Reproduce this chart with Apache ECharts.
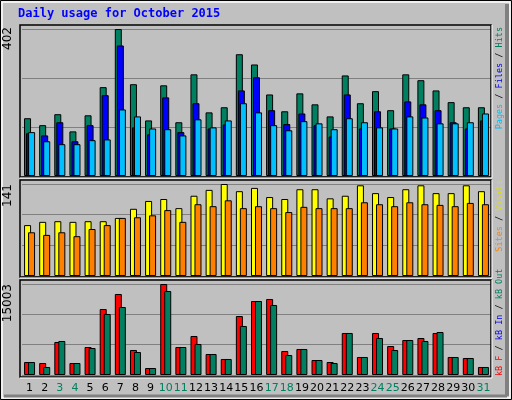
<!doctype html>
<html>
<head>
<meta charset="UTF-8">
<title>Daily usage for October 2015</title>
<script src="https://cdn.jsdelivr.net/npm/echarts@6/dist/echarts.min.js"></script>
<style>
  html, body { margin: 0; padding: 0; background: #c0c0c0; }
  #main { width: 512px; height: 400px; }
</style>
</head>
<body>
<div id="main"></div>
<script>
var days = ['1','2','3','4','5','6','7','8','9','10','11','12','13','14','15','16',
            '17','18','19','20','21','22','23','24','25','26','27','28','29','30','31'];
var weekends = ['3','4','10','11','17','18','24','25','31'];

var hits  = [158,139,169,122,166,243,402,251,152,248,147,278,174,188,333,305,
             223,177,226,196,163,275,199,232,180,278,262,234,202,188,188];
var files = [117,111,147,95,139,221,357,133,114,215,120,199,130,141,234,270,
             180,142,171,139,108,223,130,177,130,204,196,180,147,130,152];
var pages = [120,95,87,87,98,100,182,163,130,128,111,155,133,152,199,174,
             139,125,150,144,128,158,147,133,130,163,160,144,144,147,171];

var sites  = [78,83,84,83,84,84,89,103,115,118,104,123,132,141,130,135,
              121,118,133,133,119,123,139,127,121,133,139,127,127,139,130];
var visits = [67,63,67,61,72,78,89,90,93,101,83,110,107,116,104,107,
              104,98,106,104,104,104,113,110,107,113,110,109,107,112,110];

var kbF   = [2143,1978,5441,1978,4616,10881,13355,4122,1154,15003,4616,6430,3462,2638,9727,12200,
             12530,3957,4287,2473,2143,6925,2968,6925,4781,5770,6100,6925,2968,2803,1319];
var kbOut = [2143,1319,5606,1978,4451,10057,11211,3792,1154,13849,4616,5111,3462,2638,8079,12200,
             11541,3297,4287,2473,1978,6925,2968,6100,4122,5770,5606,7089,2968,2803,1319];

var maxTop = 402, maxMid = 141, maxBot = 15003;

var chart = echarts.init(document.getElementById('main'));

var panels = [
  { top: 29, height: 147, max: maxTop, frameTop: 25, frameBottom: 177 },
  { top: 184, height: 92, max: maxMid, frameTop: 180, frameBottom: 277 },
  { top: 284, height: 91, max: maxBot, frameTop: 280, frameBottom: 377 }
];

var grids = [], xAxes = [], yAxes = [];
panels.forEach(function (p, i) {
  grids.push({ left: 22, width: 469, top: p.top, height: p.height });
  xAxes.push({
    type: 'category', gridIndex: i, data: days,
    axisLine: { show: false }, axisTick: { show: false },
    axisLabel: i < 2 ? { show: false } : {
      interval: 0, margin: 8, fontSize: 11, fontFamily: 'DejaVu Sans',
      color: function (v) { return weekends.indexOf(v) >= 0 ? '#008060' : '#000000'; }
    }
  });
  yAxes.push({
    type: 'value', gridIndex: i, min: 0, max: p.max, interval: p.max / 3,
    axisLabel: { show: false }, axisLine: { show: false }, axisTick: { show: false },
    splitLine: { lineStyle: { color: '#808080', width: 1 } }
  });
});

function bars(name, data, color, idx, gap) {
  return {
    name: name, type: 'bar', data: data, xAxisIndex: idx, yAxisIndex: idx,
    barWidth: 7, barGap: gap, animation: false,
    itemStyle: { color: color, borderColor: '#000000', borderWidth: 1 }
  };
}

var graphics = [];
// panel frames
panels.forEach(function (p) {
  graphics.push({ type: 'rect', shape: { x: 20, y: p.frameTop, width: 471, height: p.frameBottom - p.frameTop },
    style: { fill: null, stroke: '#000000', lineWidth: 1.5 }, z: 10 });
  graphics.push({ type: 'line', shape: { x1: 20, y1: p.frameBottom + 1, x2: 492, y2: p.frameBottom + 1 },
    style: { stroke: '#ffffff', lineWidth: 1 }, z: 10 });
  graphics.push({ type: 'line', shape: { x1: 492, y1: p.frameTop, x2: 492, y2: p.frameBottom + 1 },
    style: { stroke: '#ffffff', lineWidth: 1 }, z: 10 });
});
// outer frame
graphics.push({ type: 'rect', shape: { x: 0.5, y: 0.5, width: 511, height: 399 },
  style: { fill: null, stroke: '#000000', lineWidth: 1 }, z: 10 });
graphics.push({ type: 'rect', shape: { x: 2, y: 2, width: 508, height: 396 },
  style: { fill: null, stroke: '#ffffff', lineWidth: 1.5 }, z: 10 });
graphics.push({ type: 'line', shape: { x1: 507, y1: 4, x2: 507, y2: 396 },
  style: { stroke: '#808080', lineWidth: 4 }, z: 10 });
graphics.push({ type: 'line', shape: { x1: 4, y1: 396, x2: 507, y2: 396 },
  style: { stroke: '#808080', lineWidth: 3 }, z: 10 });

// title
graphics.push({ type: 'text', x: 18, y: 8, z: 11,
  style: { text: 'Daily usage for October 2015', fill: '#0000ff',
    font: 'bold 12px "DejaVu Sans Mono"' } });

// max value labels
[[String(maxTop), 27], [String(maxMid), 184], [String(maxBot), 284]].forEach(function (m) {
  graphics.push({ type: 'text', x: 8, y: m[1], rotation: Math.PI / 2, z: 11,
    style: { text: m[0], fill: '#000000', font: '12px "DejaVu Sans"',
      align: 'right', verticalAlign: 'middle' } });
});

var mono = '8.5px "DejaVu Sans Mono"';
function sideLabel(y, align, parts) {
  var rich = {}, txt = '';
  parts.forEach(function (pt, k) {
    rich['p' + k] = { fill: pt[1], font: mono };
    txt += '{p' + k + '|' + pt[0] + '}';
  });
  graphics.push({ type: 'text', x: 500, y: y, rotation: Math.PI / 2, z: 11,
    style: { text: txt, rich: rich, align: align, verticalAlign: 'middle' } });
}
sideLabel(27, 'right', [['Pages', '#00c0ff'], [' / ', '#000000'], ['Files', '#0000ff'], [' / ', '#000000'], ['Hits', '#008060']]);
sideLabel(180, 'right', [['Sites', '#ff8000'], [' / ', '#000000'], ['Visits', '#e0e000']]);
sideLabel(376, 'left', [['kB F', '#ff0000'], [' / ', '#000000'], ['kB In', '#0000ff'], [' / ', '#000000'], ['kB Out', '#008060']]);

chart.setOption({
  backgroundColor: '#c0c0c0',
  animation: false,
  grid: grids,
  xAxis: xAxes,
  yAxis: yAxes,
  graphic: graphics,
  series: [
    bars('Hits', hits, '#008060', 0, '-71%'),
    bars('Files', files, '#0000ff', 0, '-71%'),
    bars('Pages', pages, '#00c0ff', 0, '-71%'),
    bars('Sites', sites, '#ffff00', 1, '-43%'),
    bars('Visits', visits, '#ff8000', 1, '-43%'),
    bars('kB F', kbF, '#ff0000', 2, '-43%'),
    bars('kB Out', kbOut, '#008060', 2, '-43%')
  ]
});
</script>
</body>
</html>
